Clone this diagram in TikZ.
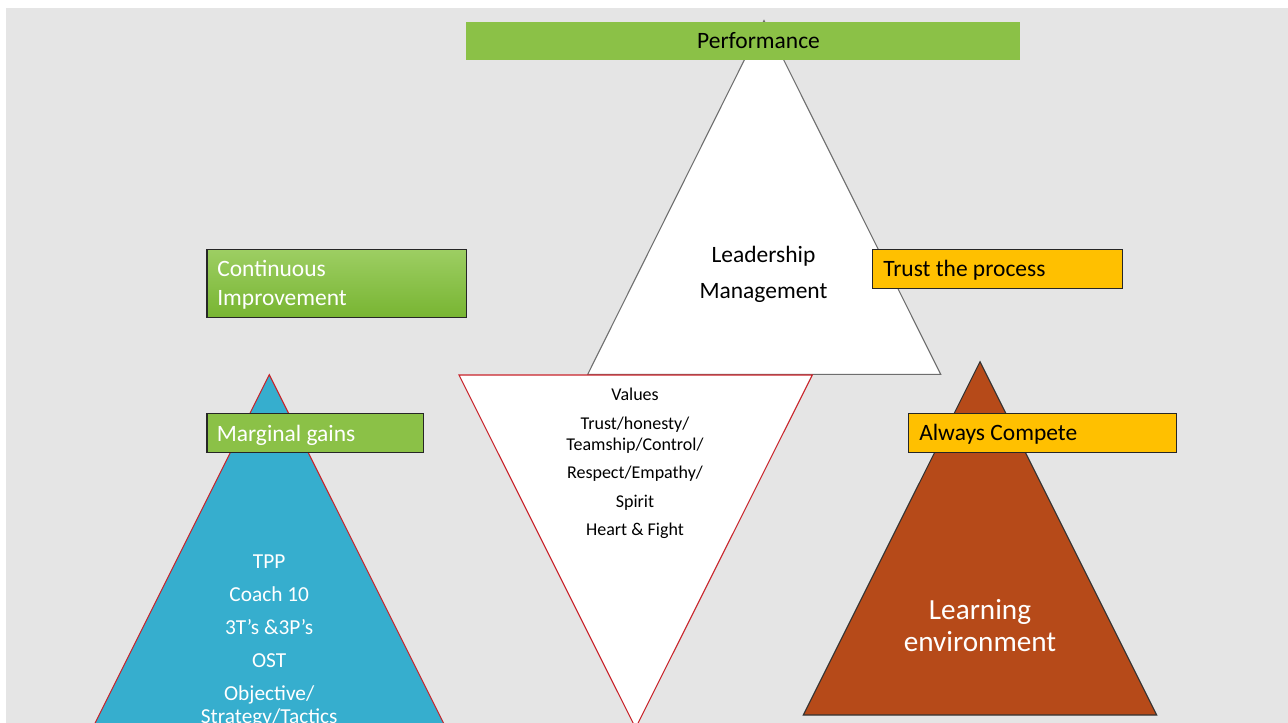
\documentclass[tikz,border=0pt]{standalone}
\usepackage{fontspec}
\setmainfont{Carlito}
\definecolor{slidebg}{HTML}{E5E5E5}
\definecolor{perfgreen}{HTML}{8BC147}
\definecolor{citop}{HTML}{9DCE63}
\definecolor{cibot}{HTML}{78B532}
\definecolor{gold}{HTML}{FFC000}
\definecolor{tppblue}{HTML}{36AECE}
\definecolor{envbrown}{HTML}{B64A19}
\definecolor{valred}{HTML}{C8232A}
\definecolor{triline}{HTML}{6E6E6E}
\begin{document}
\begin{tikzpicture}[x=0.75pt,y=-0.75pt,
  tri/.style={line width=0.8pt},
  boxline/.style={line width=0.9pt, draw=black!85},
  boxtext/.style={anchor=base west, inner sep=0pt, font=\fontsize{17.6}{21.75}\selectfont},
  midtext/.style={anchor=base, inner sep=0pt, align=center}]
\def\toptri{(764,20.5) -- (940.7,374.3) -- (587.7,374.3) -- cycle}
\def\valtri{(459,375) -- (812.3,375) -- (635.6,728) -- cycle}
\def\bluetri{(269.3,374.7) -- (449.5,735) -- (89.1,735) -- cycle}
\def\browntri{(980,361.7) -- (1156.7,715) -- (803.3,715) -- cycle}

\useasboundingbox (0,0) rectangle (1288,723);
\clip (0,0) rectangle (1288,723);
\fill[slidebg] (6,8) rectangle (1288,723);

% triangles
\filldraw[tri, fill=white, draw=triline] \toptri;
\filldraw[tri, fill=white, draw=valred] \valtri;
\filldraw[tri, fill=tppblue, draw=valred] \bluetri;
\filldraw[tri, fill=envbrown, draw=black!80] \browntri;

% texts sit on the baseline of their last line
\node[midtext, font=\fontsize{17.6}{27}\selectfont] (lead) at (763.5,298.3)
  {Leadership\\[0pt]Management};
\node[midtext, font=\fontsize{13.5}{15.75}\selectfont] (values) at (635,535.7)
  {Values\\[5.6pt]Trust/honesty/\\Teamship/Control/\\[5.6pt]Respect/Empathy/\\[5.6pt]Spirit\\[5.6pt]Heart \& Fight};
\node[midtext, text=white, font=\fontsize{16}{16.9}\selectfont] (tpp) at (269.2,723.5)
  {TPP\\[7.9pt]Coach 10\\[7.9pt]3T’s \&3P’s\\[7.9pt]OST\\[7.9pt]Objective/\\Strategy/Tactics};
\node[midtext, text=white, font=\fontsize{21.9}{23.8}\selectfont] (env) at (980,651.7)
  {Learning\\environment};

% label boxes
\fill[perfgreen] (466,22) rectangle (1020,60);
\node[boxtext, anchor=base] (perf) at (758.5,48.5) {Performance};

\shadedraw[boxline, top color=citop, bottom color=cibot] (207,249.3) rectangle (466.7,317.3);
\node[boxtext, text=white, align=left] (ci) at (217,305.7) {Continuous\\Improvement};

\filldraw[boxline, fill=perfgreen] (207,413.7) rectangle (423.3,452.3);
\node[boxtext, text=white] (gains) at (216.5,441) {Marginal gains};

\filldraw[boxline, fill=gold] (872.3,249.7) rectangle (1122.7,288.3);
\node[boxtext] (trust) at (883,276.7) {Trust the process};

\filldraw[boxline, fill=gold] (908.7,413.7) rectangle (1176.7,452.3);
\node[boxtext] (compete) at (919,440.3) {Always Compete};
\end{tikzpicture}
\end{document}
